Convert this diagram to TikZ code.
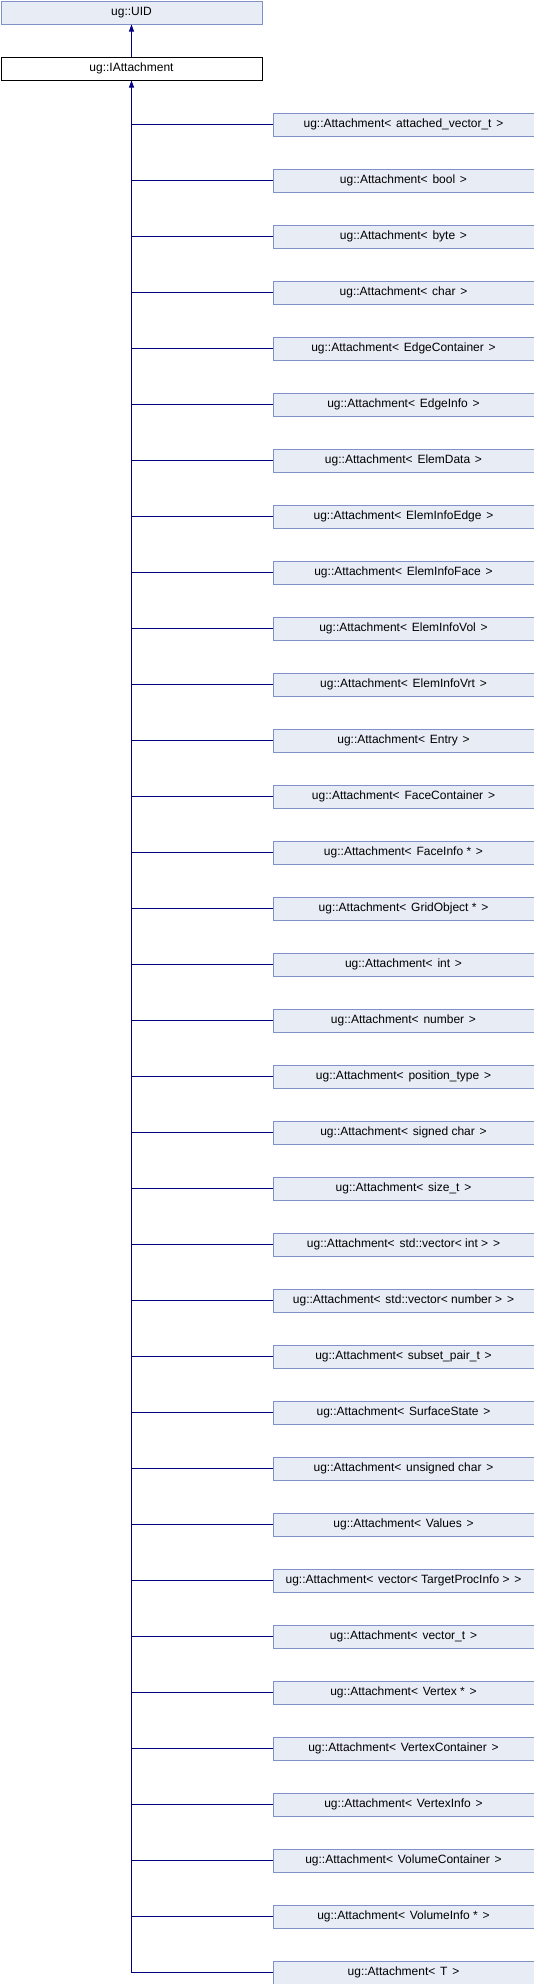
\documentclass[tikz,border=0pt]{standalone}
\usepackage{fontspec}
\setmainfont{Liberation Sans}
\usetikzlibrary{arrows.meta}
\definecolor{boxfill}{HTML}{E8ECF5}
\definecolor{boxline}{HTML}{7F92C6}
\definecolor{edge}{HTML}{000080}
\newcommand{\tsp}{\hspace{4.8pt}}
\begin{document}
\begin{tikzpicture}[x=1pt,y=-1pt,
  cls/.style={draw=boxline,fill=boxfill,line width=1pt,minimum width=261pt,minimum height=23pt,inner sep=0pt,font=\fontsize{12}{14}\selectfont,anchor=north west},
  cur/.style={cls,draw=black,fill=white},
  conn/.style={draw=edge,line width=1pt},
  arr/.style={conn,-{Triangle[length=7pt,width=5pt]}}]
\useasboundingbox (0,0) rectangle (534,1984);
\node[cls] (uid) at (0.5,0.5) {ug::UID};
\node[cur] (ia) at (0.5,56.5) {ug::IAttachment};
\draw[arr] (ia.north) -- (uid.south);
\foreach \t [count=\i from 0] in {%
  attached\_vector\_t, bool, byte, char, EdgeContainer, EdgeInfo, ElemData,
  ElemInfoEdge, ElemInfoFace, ElemInfoVol, ElemInfoVrt, Entry, FaceContainer,
  FaceInfo *, GridObject *, int, number, position\_type, signed char, size\_t,
  std::vector< int >, std::vector< number >, subset\_pair\_t, SurfaceState,
  unsigned char, Values, vector< TargetProcInfo >, vector\_t, Vertex *,
  VertexContainer, VertexInfo, VolumeContainer, VolumeInfo *, T}{
  \node[cls] (c\i) at (272.5,112.5+56*\i) {ug::Attachment<\tsp\t\tsp>};
  \draw[conn] (c\i.west) -- (c\i.west -| ia.south);
}
\coordinate (trunk) at (c33.west -| ia.south);
\draw[arr] (trunk) -- (ia.south);
\end{tikzpicture}
\end{document}
